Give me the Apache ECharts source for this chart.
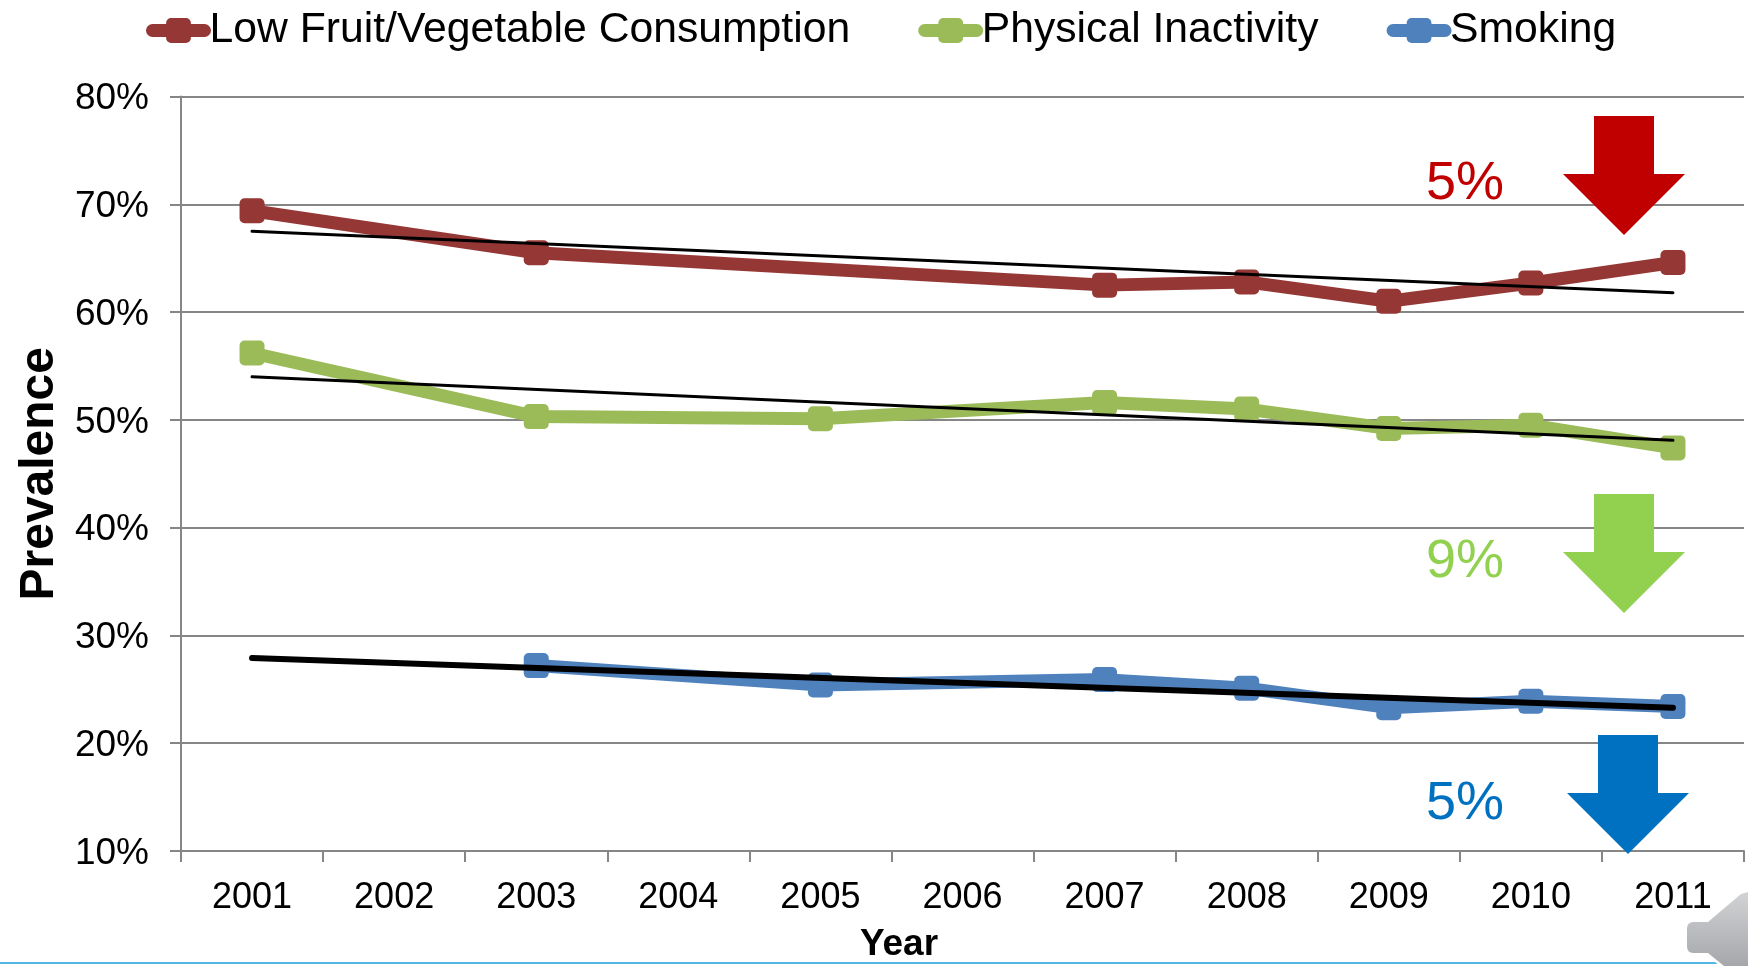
<!DOCTYPE html>
<html>
<head>
<meta charset="utf-8">
<style>html,body{margin:0;padding:0;background:#fff}#chart{width:1748px;height:966px}</style>
<script src="https://cdn.jsdelivr.net/npm/echarts@6/dist/echarts.min.js"></script>
</head>
<body>
<div id="chart"></div>
<script>
const years = ['2001','2002','2003','2004','2005','2006','2007','2008','2009','2010','2011'];
const lowFruitVeg = [69.4,null,65.5,null,null,null,62.5,62.8,61.0,62.7,64.6];
const inactivity = [56.2,null,50.3,null,50.1,null,51.6,51.0,49.2,49.5,47.4];
const smoking = [null,null,27.2,null,25.4,null,25.9,25.1,23.3,23.9,23.4];
const lowFruitVegTrend = [67.5,null,null,null,null,null,null,null,null,null,61.8];
const inactivityTrend = [54.0,null,null,null,null,null,null,null,null,null,48.1];
const smokingTrend = [27.9,null,null,null,null,null,null,null,null,null,23.3];

const FONT = '"Liberation Sans", Arial, sans-serif';
const GREY = '#868686';

function dataSeries(name, values, colour) {
  return {
    name, type: 'line', data: values, connectNulls: true,
    symbol: 'path://M4,0H16A4,4 0 0 1 20,4V16A4,4 0 0 1 16,20H4A4,4 0 0 1 0,16V4A4,4 0 0 1 4,0Z',
    symbolSize: 25, showSymbol: true,
    lineStyle: {color: colour, width: 13, cap: 'round', join: 'round'},
    itemStyle: {color: colour},
    emphasis: {disabled: true}, z: 3
  };
}
function trendSeries(name, values, width) {
  return {
    name, type: 'line', data: values, connectNulls: true, symbol: 'none',
    lineStyle: {color: '#000', width, cap: 'round'},
    emphasis: {disabled: true}, z: 4
  };
}
function arrow(x, top, colour) {
  return {
    type: 'polygon', silent: true, z: 5,
    shape: {points: [[x-30,top],[x+30,top],[x+30,top+58],[x+61,top+58],[x,top+119],[x-61,top+58],[x-30,top+58]]},
    style: {fill: colour}
  };
}
function percent(y, text, colour) {
  return {
    type: 'text', silent: true, z: 5, x: 1426, y,
    style: {text, fill: colour, font: '54px ' + FONT, textVerticalAlign: 'middle'}
  };
}

// Audio icon in the lower right corner: a body and a horn, outlined in white, sharing one gradient
const iconFill = {
  type: 'linear', global: true, x: 0, y: 892, x2: 0, y2: 966,
  colorStops: [{offset: 0, color: '#D2D3D5'}, {offset: 1, color: '#A6A7AA'}]
};
const iconBody = {shape: {x: 1687, y: 922, width: 34, height: 31, r: 6}};
const iconHorn = {shape: {points: [[1708,922],[1741,894],[1748,892],[1748,966],[1724,966],[1708,953]]}};
const audioIcon = [
  {type: 'rect', ...iconBody, silent: true, z: 6, style: {fill: '#fff', stroke: '#fff', lineWidth: 5}},
  {type: 'polygon', ...iconHorn, silent: true, z: 6, style: {fill: '#fff', stroke: '#fff', lineWidth: 5}},
  {type: 'rect', ...iconBody, silent: true, z: 7, style: {fill: iconFill}},
  {type: 'polygon', ...iconHorn, silent: true, z: 7, style: {fill: iconFill}}
];

const chart = echarts.init(document.getElementById('chart'), null, {renderer: 'canvas'});
chart.setOption({
  animation: false,
  backgroundColor: '#fff',
  grid: {left: 181, right: 4, top: 96.5, bottom: 115, containLabel: false, outerBoundsMode: 'none'},
  legend: {
    data: ['Low Fruit/Vegetable Consumption','Physical Inactivity','Smoking'],
    left: 146, top: 9, padding: 0, itemWidth: 52, itemHeight: 31, itemGap: 68,
    lineStyle: {width: 13, cap: 'round'},
    textStyle: {fontFamily: FONT, fontSize: 42.7, color: '#000'}
  },
  xAxis: {
    type: 'category', data: years, boundaryGap: true,
    name: 'Year', nameLocation: 'middle', nameGap: 75,
    nameTextStyle: {fontFamily: FONT, fontSize: 37, fontWeight: 'bold', color: '#000', padding: [0,127,0,0]},
    axisLine: {lineStyle: {color: GREY, width: 2}},
    axisTick: {show: true, length: 11, alignWithLabel: false, lineStyle: {color: GREY, width: 2}},
    axisLabel: {fontFamily: FONT, fontSize: 36, color: '#000', margin: 29, interval: 0}
  },
  yAxis: {
    type: 'value', min: 10, max: 80, interval: 10,
    name: 'Prevalence', nameLocation: 'middle', nameGap: 115, nameRotate: 90,
    nameTextStyle: {fontFamily: FONT, fontSize: 48, fontWeight: 'bold', color: '#000'},
    axisLine: {show: true, lineStyle: {color: GREY, width: 2}},
    axisTick: {show: true, length: 11, lineStyle: {color: GREY, width: 2}},
    axisLabel: {fontFamily: FONT, fontSize: 37, color: '#000', margin: 32, verticalAlign: 'top', lineHeight: 5, formatter: '{value}%'},
    splitLine: {lineStyle: {color: GREY, width: 2}}
  },
  series: [
    dataSeries('Low Fruit/Vegetable Consumption', lowFruitVeg, '#953735'),
    dataSeries('Physical Inactivity', inactivity, '#9BBB59'),
    dataSeries('Smoking', smoking, '#4F81BD'),
    trendSeries('Low Fruit/Vegetable Trend', lowFruitVegTrend, 3),
    trendSeries('Physical Inactivity Trend', inactivityTrend, 3),
    trendSeries('Smoking Trend', smokingTrend, 6)
  ],
  graphic: [
    arrow(1624, 116, '#C00000'),
    arrow(1624, 494, '#92D050'),
    arrow(1628, 735, '#0070C0'),
    percent(184, '5%', '#C00000'),
    percent(562, '9%', '#92D050'),
    percent(804, '5%', '#0070C0'),
    {type: 'rect', silent: true, z: 1, shape: {x: 0, y: 962, width: 1748, height: 2}, style: {fill: '#55B5E5'}},
    ...audioIcon
  ]
});
</script>
</body>
</html>
